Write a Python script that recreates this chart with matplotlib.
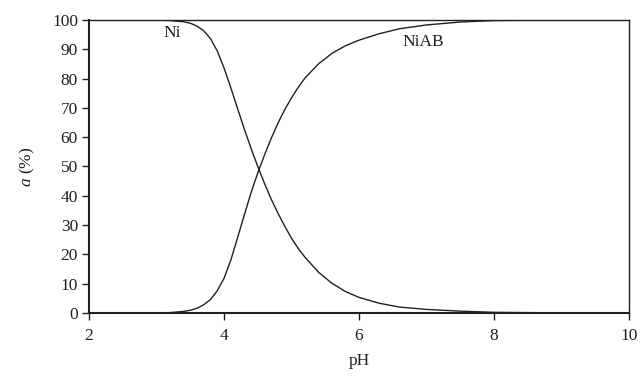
import matplotlib.pyplot as plt

# species distribution vs pH
ph = [2.0, 3.0, 3.2, 3.4, 3.5, 3.6, 3.7, 3.8, 3.9, 4.0, 4.1, 4.2, 4.3, 4.4, 4.5,
      4.6, 4.7, 4.8, 4.9, 5.0, 5.1, 5.2, 5.4, 5.6, 5.8, 6.0, 6.3, 6.6, 7.0, 7.5,
      8.0, 9.0, 10.0]
ni = [100, 100, 99.8, 99.4, 98.9, 97.9, 96.3, 93.6, 89.4, 83.6, 76.9, 69.8, 62.8,
      56.2, 50.0, 44.2, 38.8, 34.0, 29.6, 25.5, 22.0, 19.0, 13.9, 10.1, 7.3, 5.3,
      3.3, 2.0, 1.2, 0.6, 0.2, 0, 0]
niab = [0, 0, 0.1, 0.5, 0.9, 1.6, 2.8, 4.6, 7.6, 11.8, 18.0, 25.6, 33.4, 41.0,
        47.8, 53.9, 59.6, 64.8, 69.4, 73.4, 77.0, 80.2, 85.0, 88.6, 91.2, 93.1,
        95.3, 97.0, 98.3, 99.3, 99.8, 100, 100]

plt.rcParams['font.family'] = ['Liberation Serif', 'DejaVu Serif']
plt.rcParams['mathtext.fontset'] = 'custom'
plt.rcParams['mathtext.it'] = 'Liberation Serif:italic'
plt.rcParams['mathtext.rm'] = 'Liberation Serif'

ink = '#231f20'
fs = 12.5
fig = plt.figure(figsize=(6.41, 3.77), dpi=100)
ax = fig.add_axes([0.139, 0.170, 0.842, 0.777])

ax.plot(ph, ni, color=ink, lw=1.0)
ax.plot(ph, niab, color=ink, lw=1.0)

ax.text(3.23, 95.5, 'Ni', fontsize=fs, color=ink, ha='center', va='center')
ax.text(6.96, 92.4, 'NiAB', fontsize=fs, color=ink, ha='center', va='center')

ax.set_xlim(2, 10)
ax.set_ylim(0, 100)
ax.set_xticks([2, 4, 6, 8, 10])
ax.set_yticks(range(0, 101, 10))
ax.tick_params(direction='out', length=5, width=1, colors=ink, labelsize=fs)
ax.tick_params(axis='x', pad=6)
ax.tick_params(axis='y', pad=3)
for s in ax.spines.values():
    s.set_color(ink)
    s.set_linewidth(1.0)
ax.spines['left'].set_linewidth(1.5)
ax.spines['bottom'].set_linewidth(1.5)

ax.set_xlabel('pH', fontsize=fs, color=ink)
ax.set_ylabel('$a$ (%)', fontsize=fs, color=ink)
ax.xaxis.set_label_coords(0.5, -0.138)
ax.yaxis.set_label_coords(-0.096, 0.5)

fig.savefig('out.png', dpi=100)
